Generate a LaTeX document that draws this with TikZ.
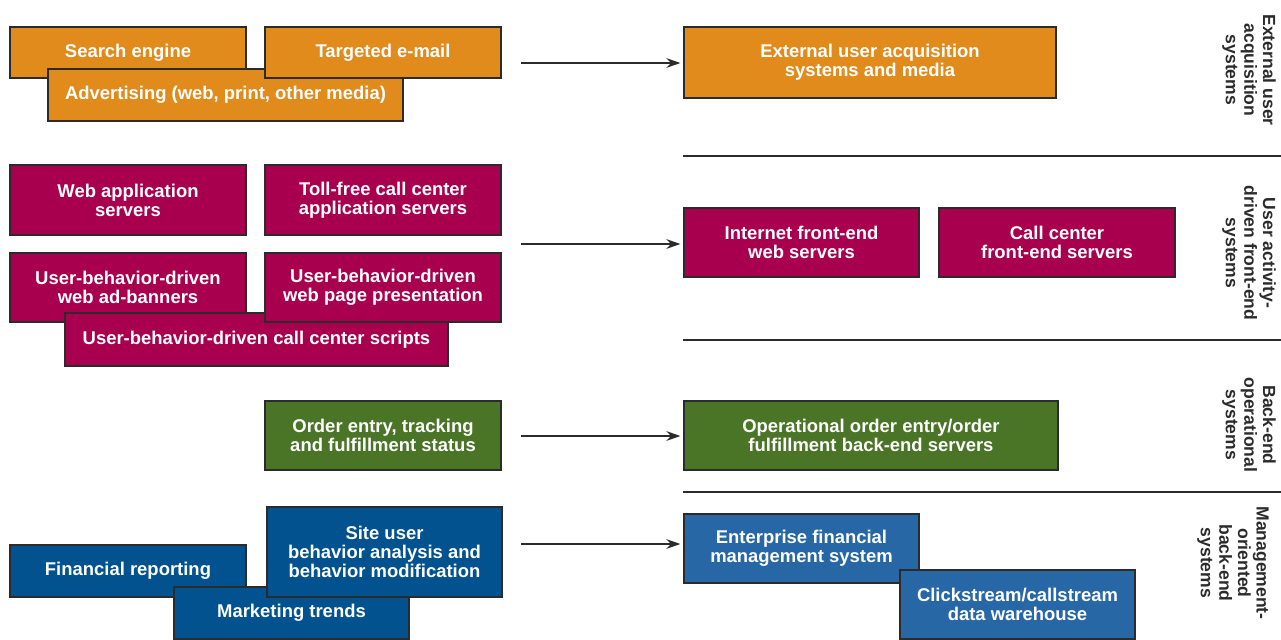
\documentclass[tikz,border=0pt]{standalone}
\usepackage{fontspec}
\setmainfont{Liberation Sans}
\usetikzlibrary{arrows.meta}
\definecolor{orng}{HTML}{E08B1B}
\definecolor{mag}{HTML}{A8004F}
\definecolor{grn}{HTML}{4A7526}
\definecolor{dblue}{HTML}{02528F}
\definecolor{lblue}{HTML}{2767A6}
\definecolor{edge}{HTML}{2B2B2B}
\begin{document}
\begin{tikzpicture}[x=0.02cm,y=-0.02cm,
  box/.style={draw=edge,line width=1.1pt,text=white,align=center,inner sep=0pt,
    font=\fontsize{10.5}{10.9}\selectfont\bfseries},
  lab/.style={rotate=-90,align=center,text=edge,font=\fontsize{10}{10.6}\selectfont\bfseries},
  arr/.style={-{Stealth[length=8pt,width=5.5pt]},line width=1pt,edge,shorten >=1.5pt},
  sep/.style={line width=1.2pt,edge}]
\useasboundingbox (0,0) rectangle (1281,639);
% row 1
\node[box,fill=orng,minimum width=4.72cm,minimum height=1.02cm] (se) at (128,52.5) {Search engine};
\node[box,fill=orng,minimum width=7.10cm,minimum height=1.04cm] (adv) at (225.5,95) {Advertising (web, print, other media)};
\node[box,fill=orng,minimum width=4.72cm,minimum height=1.02cm] (te) at (383,52.5) {Targeted e-mail};
\node[box,fill=orng,minimum width=7.44cm,minimum height=1.42cm] (ext) at (870,62.5) {External user acquisition\\systems and media};
% row 2
\node[box,fill=mag,minimum width=4.72cm,minimum height=1.40cm] (wa) at (128,200) {Web application\\servers};
\node[box,fill=mag,minimum width=4.72cm,minimum height=1.40cm] (tf) at (383,200) {Toll-free call center\\application servers};
\node[box,fill=mag,minimum width=4.72cm,minimum height=1.38cm] (ub1) at (128,287.5) {User-behavior-driven\\web ad-banners};
\node[box,fill=mag,minimum width=7.66cm,minimum height=1.06cm] (ub3) at (256.5,339.5) {User-behavior-driven call center scripts};
\node[box,fill=mag,minimum width=4.72cm,minimum height=1.38cm] (ub2) at (383,287.5) {User-behavior-driven\\web page presentation};
\node[box,fill=mag,minimum width=4.70cm,minimum height=1.38cm] (ife) at (801.5,242.5) {Internet front-end\\web servers};
\node[box,fill=mag,minimum width=4.72cm,minimum height=1.38cm] (cfe) at (1057,242.5) {Call center\\front-end servers};
% row 3
\node[box,fill=grn,minimum width=4.72cm,minimum height=1.38cm] (oe) at (383,435.5) {Order entry, tracking\\and fulfillment status};
\node[box,fill=grn,minimum width=7.48cm,minimum height=1.38cm] (op) at (871,435.5) {Operational order entry/order\\fulfillment back-end servers};
% row 4
\node[box,fill=dblue,minimum width=4.72cm,minimum height=1.04cm] (fr) at (128,571) {Financial reporting};
\node[box,fill=dblue,minimum width=4.70cm,minimum height=1.04cm] (mt) at (291.5,613) {Marketing trends};
\node[box,fill=dblue,minimum width=4.70cm,minimum height=1.80cm] (su) at (384.5,552) {Site user\\behavior analysis and\\behavior modification};
\node[box,fill=lblue,minimum width=4.70cm,minimum height=1.38cm] (ef) at (801.5,548.5) {Enterprise financial\\management system};
\node[box,fill=lblue,minimum width=4.70cm,minimum height=1.38cm] (cs) at (1017.5,604.5) {Clickstream/callstream\\data warehouse};
% arrows
\coordinate (a1) at (521,63);
\coordinate (a2) at (521,244);
\coordinate (a3) at (521,436);
\coordinate (a4) at (521,544);
\draw[arr] (a1) -- (ext.west |- a1);
\draw[arr] (a2) -- (ife.west |- a2);
\draw[arr] (a3) -- (op.west |- a3);
\draw[arr] (a4) -- (ef.west |- a4);
% separators
\coordinate (s1a) at (683,156); \coordinate (s1b) at (1281,156);
\coordinate (s2a) at (683,340); \coordinate (s2b) at (1281,340);
\coordinate (s3a) at (683,492); \coordinate (s3b) at (1281,492);
\draw[sep] (s1a) -- (s1b);
\draw[sep] (s2a) -- (s2b);
\draw[sep] (s3a) -- (s3b);
% side labels
\node[lab] (l1) at (1249,70) {External user\\acquisition\\systems};
\node[lab] (l2) at (1249,253) {User activity-\\driven front-end\\systems};
\node[lab] (l3) at (1249,425) {Back-end\\operational\\systems};
\node[lab] (l4) at (1233,563) {Management-\\oriented\\back-end\\systems};
\end{tikzpicture}
\end{document}
